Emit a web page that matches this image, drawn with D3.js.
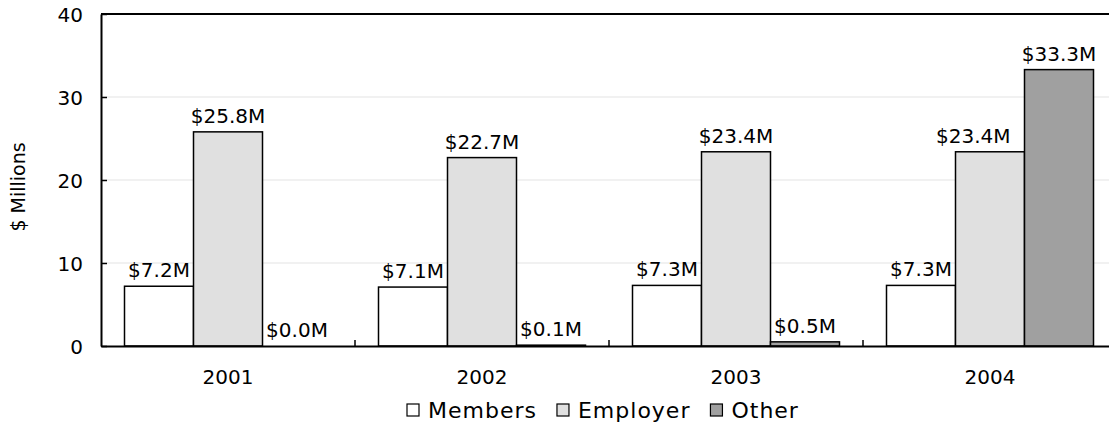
<!DOCTYPE html>
<html>
<head>
<meta charset="UTF-8">
<title>Contributions</title>
<script src="https://cdn.jsdelivr.net/npm/d3@7"></script>
<style>
  body { margin: 0; background: #fff; }
  text { font-family: "DejaVu Sans", Verdana, sans-serif; fill: #000; }
</style>
</head>
<body>
<div id="app"></div>
<script>
    var years = ["2001", "2002", "2003", "2004"];
    var seriesNames = ["Members", "Employer", "Other"];
    var members = [7.2, 7.1, 7.3, 7.3];
    var employer = [25.8, 22.7, 23.4, 23.4];
    var other = [0.0, 0.1, 0.5, 33.3];
    var yTicks = [0, 10, 20, 30, 40];
    var colors = ["#ffffff", "#e0e0e0", "#a0a0a0"];

    var values = [members, employer, other];
    var W = 1109, H = 432;
    var plotL = 101, plotR = 1117, plotT = 14, plotB = 346;
    var fs = '20px';

    var svg = d3.select('#app').append('svg')
        .attr('width', W).attr('height', H);

    var x = d3.scaleBand().domain(years).range([plotL, plotR]);
    var xs = d3.scaleBand().domain(seriesNames).range([23.5, x.bandwidth() - 23.5]);
    var y = d3.scaleLinear().domain([0, 40]).range([plotB, plotT]);

    // gridlines
    svg.append('g').selectAll('line').data(yTicks.slice(1, -1)).enter().append('line')
        .attr('x1', plotL).attr('x2', W)
        .attr('y1', function(d){ return y(d); }).attr('y2', function(d){ return y(d); })
        .attr('stroke', '#ececec').attr('stroke-width', 1.5);

    // top border
    svg.append('line').attr('x1', plotL).attr('x2', W).attr('y1', plotT).attr('y2', plotT)
        .attr('stroke', '#000').attr('stroke-width', 2);

    // bars
    var groups = svg.selectAll('g.year').data(years).enter().append('g')
        .attr('class', 'year')
        .attr('transform', function(d){ return 'translate(' + x(d) + ',0)'; });

    seriesNames.forEach(function(s, si){
        groups.append('rect')
            .attr('x', xs(s))
            .attr('width', xs.bandwidth())
            .attr('y', function(d, i){ return y(values[si][i]); })
            .attr('height', function(d, i){ return plotB - y(values[si][i]); })
            .attr('fill', colors[si])
            .attr('stroke', '#000')
            .attr('stroke-width', 1.5)
            .style('display', function(d, i){ return values[si][i] > 0 ? null : 'none'; });
    });

    // value labels, nudged left when a taller bar on the right is in the way
    seriesNames.forEach(function(s, si){
        groups.append('text')
            .attr('x', xs(s) + xs.bandwidth() / 2)
            .attr('y', function(d, i){ return y(values[si][i]) - 9; })
            .attr('text-anchor', 'middle')
            .style('font-size', fs)
            .text(function(d, i){ return '$' + values[si][i].toFixed(1) + 'M'; })
            .each(function(d, i){
                if (si + 1 >= seriesNames.length) return;
                var next = values[si + 1][i];
                var w = this.getComputedTextLength();
                var cx = xs(s) + xs.bandwidth() / 2;
                var nextL = xs(seriesNames[si + 1]);
                if (cx + w / 2 > nextL && y(next) < y(values[si][i]) - 25) {
                    d3.select(this).attr('x', nextL - 14 - w / 2);
                }
            });
    });

    // y axis
    var yAxis = d3.axisLeft(y).tickValues(yTicks).tickSizeInner(-6).tickSizeOuter(0).tickPadding(18);
    var gy = svg.append('g').attr('transform', 'translate(' + plotL + ',0)').call(yAxis);
    gy.select('.domain').attr('stroke', '#000').attr('stroke-width', 2);
    gy.selectAll('.tick line').attr('stroke', '#000').attr('stroke-width', 1.5);
    gy.selectAll('.tick text').attr('dy', '0.36em').style('font-size', fs).style('font-family', null);

    // x axis
    var xAxis = d3.axisBottom(x).tickSize(0).tickPadding(24);
    var gx = svg.append('g').attr('transform', 'translate(0,' + plotB + ')').call(xAxis);
    gx.select('.domain').attr('stroke', '#000').attr('stroke-width', 2);
    gx.selectAll('.tick text').style('font-size', fs).style('font-family', null);
    // category separators
    gx.selectAll('line.sep').data(years.slice(1)).enter().append('line')
        .attr('class', 'sep')
        .attr('x1', function(d){ return x(d); }).attr('x2', function(d){ return x(d); })
        .attr('y1', 0).attr('y2', -6)
        .attr('stroke', '#000').attr('stroke-width', 1.5);

    // y title
    svg.append('text')
        .attr('transform', 'translate(25,187) rotate(-90)')
        .attr('text-anchor', 'middle')
        .style('font-size', '19px')
        .text('$ Millions');

    // legend
    var legend = svg.append('g');
    var lx = 407;
    seriesNames.forEach(function(s, si){
        var g = legend.append('g').attr('transform', 'translate(' + lx + ',418)');
        g.append('rect').attr('x', 0).attr('y', -14).attr('width', 12).attr('height', 12)
            .attr('fill', colors[si]).attr('stroke', '#000').attr('stroke-width', 1.2);
        var t = g.append('text').attr('x', 21).attr('y', 0)
            .style('font-size', '22px').style('letter-spacing', '1px').text(s);
        lx += 21 + t.node().getComputedTextLength() + 20;
    });
</script>
</body>
</html>
